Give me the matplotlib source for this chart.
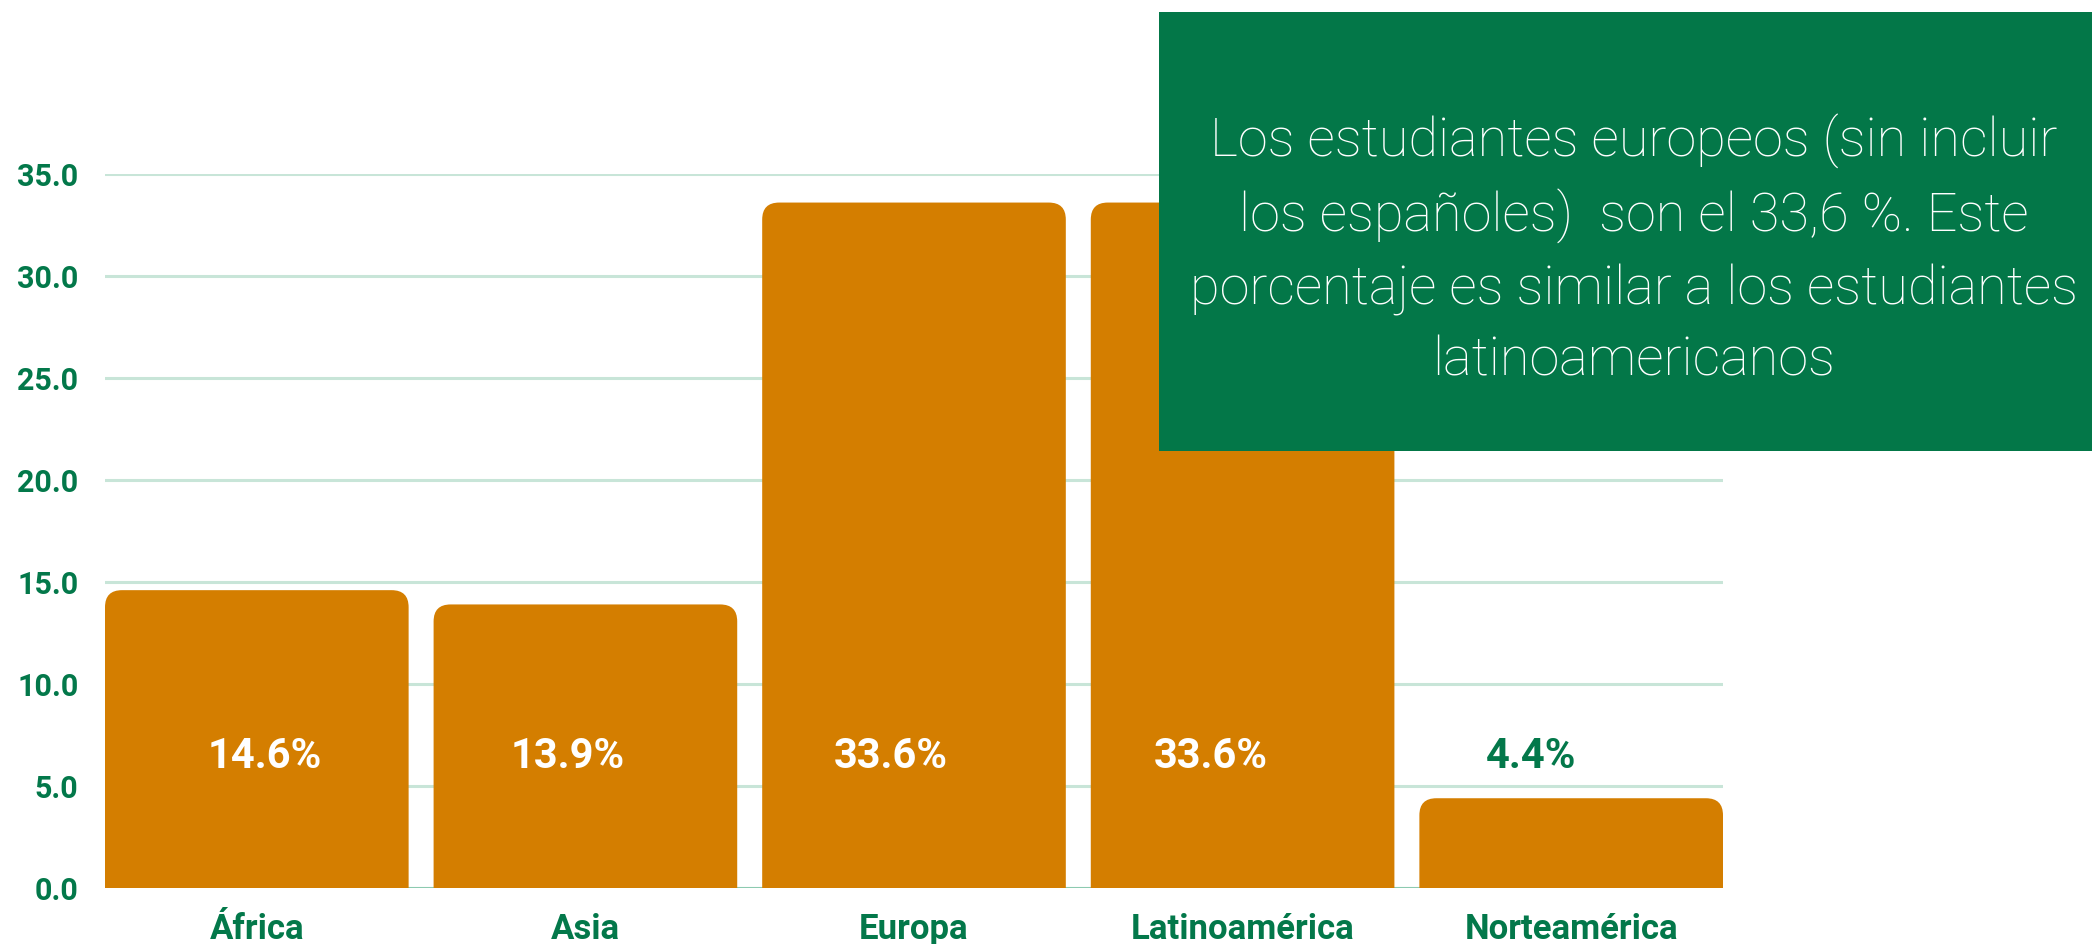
import matplotlib
matplotlib.use("Agg")
import matplotlib.pyplot as plt
from matplotlib.path import Path
from matplotlib.patches import PathPatch, Rectangle

categories = ["África", "Asia", "Europa", "Latinoamérica", "Norteamérica"]
values = [14.6, 13.9, 33.6, 33.6, 4.4]
value_labels = ["14.6%", "13.9%", "33.6%", "33.6%", "4.4%"]
yticks = [0, 5, 10, 15, 20, 25, 30, 35]
ytick_labels = ["0.0", "5.0", "10.0", "15.0", "20.0", "25.0", "30.0", "35.0"]
note = ("Los estudiantes europeos (sin incluir\n"
        "los españoles)  son el 33,6 %. Este\n"
        "porcentaje es similar a los estudiantes\n"
        "latinoamericanos")

GREEN = "#03784A"
BOX = "#037748"
ORANGE = "#D47E00"
GRID = "#C8E5D8"
FONT = "Roboto"

W, H = 2092, 944
fig = plt.figure(figsize=(W / 100, H / 100), dpi=100)
ax = fig.add_axes([105 / W, 1 - 888 / H, (1723 - 105) / W, (888 - 174) / H])

BW = 0.924
x = list(range(len(categories)))
bars = ax.bar(x, values, width=BW, color=ORANGE)
ax.set_xlim(-BW / 2, len(categories) - 1 + BW / 2)
ax.set_ylim(0, 35)

for s in ax.spines.values():
    s.set_visible(False)
ax.set_yticks(yticks)
ax.set_yticklabels(ytick_labels)
ax.tick_params(axis="y", length=0, pad=19, labelsize=22, labelcolor=GREEN)
ax.tick_params(axis="x", length=0, pad=18, labelsize=25, labelcolor=GREEN)
ax.set_xticks(x)
ax.set_xticklabels(categories)
for lab in ax.get_xticklabels() + ax.get_yticklabels():
    lab.set_fontfamily(FONT)
    lab.set_fontweight("bold")
ax.grid(axis="y", color=GRID, linewidth=2.2, zorder=0)
ax.set_axisbelow(True)
ax.axhline(0, color="#8CCAB0", linewidth=2.2, zorder=1)

# rounded top corners
fig.canvas.draw()
px_x = ax.transData.transform((1, 0))[0] - ax.transData.transform((0, 0))[0]
px_y = ax.transData.transform((0, 1))[1] - ax.transData.transform((0, 0))[1]
r_px = 17
rx, ry = r_px / px_x, r_px / px_y
for b in bars:
    b.set_visible(False)
    x0, w, h = b.get_x(), b.get_width(), b.get_height()
    x1 = x0 + w
    verts = [(x0, 0), (x0, h - ry), (x0, h), (x0 + rx, h), (x1 - rx, h),
             (x1, h), (x1, h - ry), (x1, 0), (x0, 0)]
    codes = [Path.MOVETO, Path.LINETO, Path.CURVE3, Path.CURVE3, Path.LINETO,
             Path.CURVE3, Path.CURVE3, Path.LINETO, Path.CLOSEPOLY]
    ax.add_patch(PathPatch(Path(verts, codes), facecolor=ORANGE,
                           edgecolor="none", zorder=2))

label_y = 6.45
label_dx = [0.024, -0.055, -0.07, -0.098, -0.122]
for i, (v, t) in enumerate(zip(values, value_labels)):
    col = "white" if v > label_y + 1 else GREEN
    ax.text(i + label_dx[i], label_y, t, ha="center", va="center",
            fontsize=30, fontweight="bold", color=col, family=FONT, zorder=3)

# annotation box
bx0, by0, bx1, by1 = 1159, 12, 2092, 451
fig.patches.append(Rectangle((bx0 / W, 1 - by1 / H), (bx1 - bx0) / W,
                             (by1 - by0) / H, transform=fig.transFigure,
                             facecolor=BOX, edgecolor="none", zorder=5))
fig.text(1634 / W, 1 - 250 / H, note, ha="center", va="center", color="white",
         fontsize=39, fontweight="light", family=FONT, linespacing=1.48,
         zorder=6)

fig.savefig("out.png", dpi=100)
